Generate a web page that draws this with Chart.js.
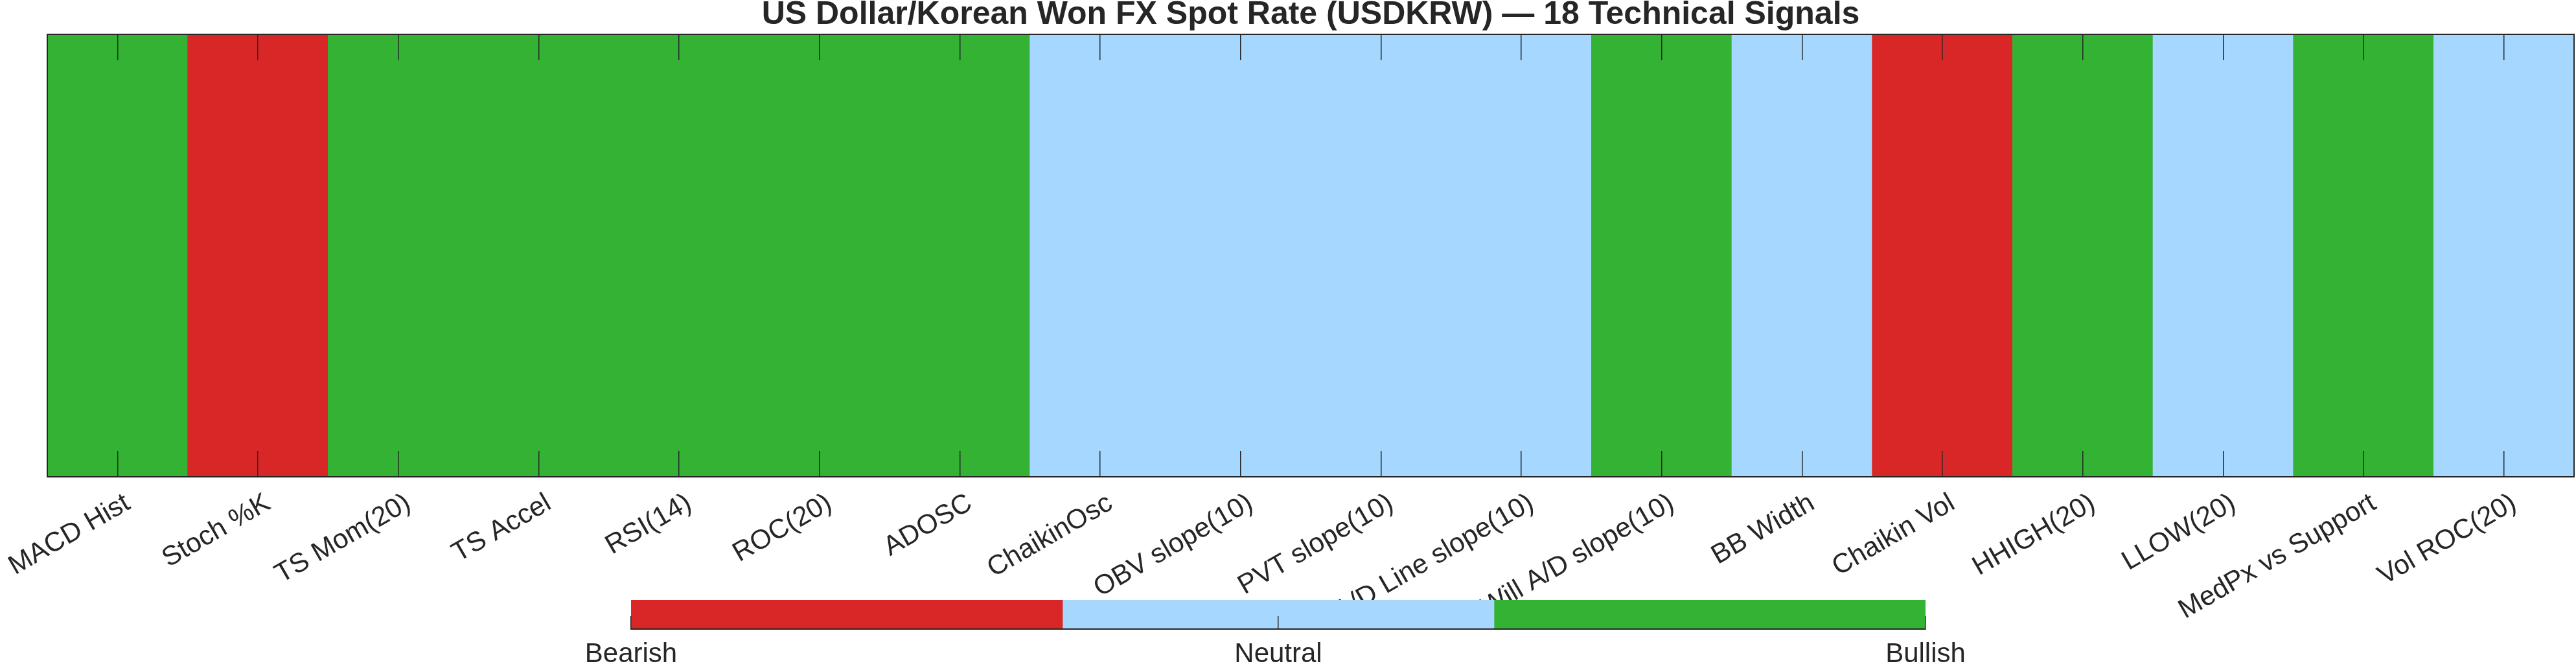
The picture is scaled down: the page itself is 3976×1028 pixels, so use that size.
<!DOCTYPE html>
<html>
<head>
<meta charset="utf-8">
<script src="https://cdn.jsdelivr.net/npm/chart.js@4/dist/chart.umd.min.js"></script>
<style>
  html, body { margin: 0; padding: 0; background: #fff; }
  #wrap { position: relative; width: 3976px; height: 1028px; }
  canvas { position: absolute; left: 0; top: 0; }
</style>
</head>
<body>
<div id="wrap">
  <canvas id="signals" width="3976" height="1028"></canvas>
  <canvas id="cbar" width="3976" height="1028"></canvas>
</div>
<script>
const indicators = ['MACD Hist', 'Stoch %K', 'TS Mom(20)', 'TS Accel', 'RSI(14)', 'ROC(20)', 'ADOSC',
  'ChaikinOsc', 'OBV slope(10)', 'PVT slope(10)', 'A/D Line slope(10)', 'Will A/D slope(10)',
  'BB Width', 'Chaikin Vol', 'HHIGH(20)', 'LLOW(20)', 'MedPx vs Support', 'Vol ROC(20)'];
// -1 bearish, 0 neutral, 1 bullish
const signals = [1, -1, 1, 1, 1, 1, 1, 0, 0, 0, 0, 1, 0, -1, 1, 0, 1, 0];
const levelValues = [-1, 0, 1];
const levelNames = ['Bearish', 'Neutral', 'Bullish'];
const levelColors = ['#D92727', '#A6D8FF', '#34B234'];

const FONT = "'Liberation Sans', Arial, Helvetica, sans-serif";
const DARK = '#262626';

Chart.defaults.font.family = FONT;
Chart.defaults.color = DARK;

function colorFor(v) {
  return levelColors[levelValues.indexOf(v)];
}

// main strip: one cell per indicator
const signalsCtx = document.getElementById('signals');
new Chart(signalsCtx, {
  type: 'bar',
  data: {
    labels: indicators,
    datasets: [{
      data: signals.map(() => [0, 1]),
      backgroundColor: signals.map(colorFor),
      borderWidth: 0,
      barPercentage: 1,
      categoryPercentage: 1
    }]
  },
  options: {
    responsive: false,
    animation: false,
    layout: { padding: { left: 73, right: 3, top: 0, bottom: 0 } },
    plugins: {
      legend: { display: false },
      tooltip: { enabled: false },
      title: {
        display: true,
        text: 'US Dollar/Korean Won FX Spot Rate (USDKRW) \u2014 18 Technical Signals',
        color: DARK,
        font: { size: 50, weight: 'bold', lineHeight: 1.0 },
        padding: { top: -2, bottom: 5 }
      }
    },
    scales: {
      x: {
        position: 'bottom',
        offset: true,
        grid: { z: 1, offset: false, drawOnChartArea: false, drawTicks: true, tickLength: -40, color: DARK, lineWidth: 1.5 },
        border: { z: 1, display: true, color: DARK, width: 2 },
        ticks: { z: 1, autoSkip: false, minRotation: 30, maxRotation: 30, padding: 56, labelOffset: 16, color: DARK, font: { size: 42 } },
        afterFit: (scale) => { scale.height = 292; scale.paddingLeft = 0; scale.paddingRight = 0; }
      },
      x2: {
        type: 'category',
        position: 'top',
        offset: true,
        grid: { z: 1, offset: false, drawOnChartArea: false, drawTicks: true, tickLength: -40, color: DARK, lineWidth: 1.5 },
        border: { z: 1, display: true, color: DARK, width: 2 },
        ticks: { display: false },
        afterFit: (scale) => { scale.height = 0; scale.paddingLeft = 0; scale.paddingRight = 0; }
      },
      y: {
        position: 'left',
        min: 0,
        max: 1,
        grid: { display: false },
        border: { z: 1, display: true, color: DARK, width: 2 },
        ticks: { display: false },
        afterFit: (scale) => { scale.width = 0; }
      },
      y2: {
        position: 'right',
        min: 0,
        max: 1,
        grid: { display: false },
        border: { z: 1, display: true, color: DARK, width: 2 },
        ticks: { display: false },
        afterFit: (scale) => { scale.width = 0; }
      }
    }
  }
});

// colour bar
const cbarCtx = document.getElementById('cbar');
const edges = [-1, -1 / 3, 1 / 3, 1];
new Chart(cbarCtx, {
  type: 'bar',
  data: {
    labels: ['signal'],
    datasets: levelColors.map((c, i) => ({
      data: [[edges[i], edges[i + 1]]],
      backgroundColor: c,
      borderWidth: 0,
      barPercentage: 1,
      categoryPercentage: 1
    }))
  },
  options: {
    indexAxis: 'y',
    responsive: false,
    animation: false,
    layout: { padding: { left: 974, right: 1004, top: 926, bottom: 0 } },
    plugins: { legend: { display: false }, tooltip: { enabled: false } },
    scales: {
      x: {
        type: 'linear',
        min: -1,
        max: 1,
        grid: { z: 1, drawOnChartArea: false, drawTicks: true, tickLength: -20, color: DARK, lineWidth: 1.5 },
        border: { z: 1, display: true, color: DARK, width: 2 },
        afterBuildTicks: (scale) => { scale.ticks = levelValues.map(v => ({ value: v })); },
        ticks: {
          z: 1,
          padding: 34,
          color: DARK,
          font: { size: 42 },
          callback: (v) => levelNames[levelValues.indexOf(v)]
        },
        afterFit: (scale) => { scale.height = 57; scale.paddingLeft = 0; scale.paddingRight = 0; }
      },
      y: {
        stacked: true,
        display: false
      }
    }
  }
});
</script>
</body>
</html>
